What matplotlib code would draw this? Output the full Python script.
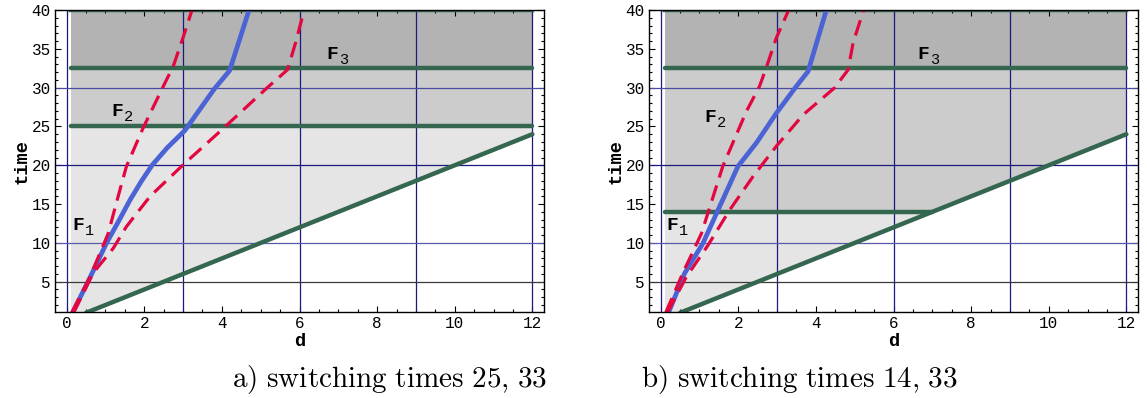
import numpy as np
import matplotlib
matplotlib.use("Agg")
import matplotlib.pyplot as plt
from matplotlib.ticker import MultipleLocator

# ---------------- data ----------------
# panel a) switching times 25, 33
a_switch = [25, 32.5]
a_blue_d = [0.15, 0.55, 1.03, 1.35, 1.63, 1.92, 2.2, 2.6, 3.05, 3.8, 4.2, 4.7]
a_blue_t = [1.0, 5.0, 10.0, 12.9, 15.5, 17.9, 20.0, 22.3, 24.5, 29.8, 32.2, 40.0]
a_redL_d = [0.13, 0.6, 1.07, 1.3, 1.54, 1.97, 2.45, 2.75, 3.01, 3.23]
a_redL_t = [1.0, 5.6, 11.2, 15.5, 19.85, 24.8, 29.75, 32.8, 36.6, 40.0]
a_redR_d = [0.18, 0.68, 1.2, 1.54, 2.15, 3.01, 3.96, 5.17, 5.69, 5.9, 6.12]
a_redR_t = [1.0, 6.1, 9.3, 12.1, 16.0, 20.1, 24.4, 30.0, 32.3, 35.8, 40.0]

# panel b) switching times 14, 33
b_switch = [14, 32.5]
b_blue_d = [0.2, 0.62, 1.09, 1.48, 1.75, 1.99, 2.47, 2.98, 3.5, 3.8, 4.27]
b_blue_t = [1.0, 6.1, 9.95, 14.25, 17.2, 19.85, 22.9, 26.7, 30.2, 32.1, 40.0]
b_redL_d = [0.13, 0.57, 1.05, 1.6, 2.21, 2.55, 2.72, 2.98, 3.3]
b_redL_t = [1.0, 6.1, 11.2, 19.85, 26.95, 30.2, 32.55, 36.4, 40.0]
b_redR_d = [0.17, 0.66, 1.22, 1.78, 2.38, 2.98, 3.67, 4.48, 4.83, 4.96, 5.23]
b_redR_t = [1.0, 5.6, 9.7, 14.25, 18.55, 22.45, 26.5, 29.97, 32.3, 35.8, 40.0]

# boundary line
boundary_d = [0.5, 12.0]
boundary_t = [1.0, 24.0]
d_left = 0.1
d_right = 12.0
t_top = 40.0

xticks = [0, 2, 4, 6, 8, 10, 12]
yticks = [5, 10, 15, 20, 25, 30, 35, 40]
vgrid = [0, 3, 6, 9, 12]
hgrid = [5, 10, 20, 30]
hgrid_colors = ['#3a3a3a', '#5a5aa8', '#1a1a80', '#4a4aa0']

labels_pos_a = [(0.45, 12.2), (1.45, 26.9), (7.0, 34.3)]
labels_pos_b = [(0.46, 12.2), (1.43, 26.1), (6.93, 34.3)]
captions = ['a) switching times 25, 33', 'b) switching times 14, 33']

GREEN = '#346650'
BLUE = '#4b63d4'
RED = '#e3063f'
G1, G2, G3 = '#e5e5e5', '#cccccc', '#b3b3b3'
MONO = 'Liberation Mono'

W, H = 1147, 398
fig = plt.figure(figsize=(W / 100, H / 100), dpi=100)

ax_rects = [
    [55 / W, (H - 312) / H, 489 / W, 302 / H],
    [649 / W, (H - 312) / H, 489 / W, 302 / H],
]

panels = [
    (a_switch, a_blue_d, a_blue_t, a_redL_d, a_redL_t, a_redR_d, a_redR_t, labels_pos_a),
    (b_switch, b_blue_d, b_blue_t, b_redL_d, b_redL_t, b_redR_d, b_redR_t, labels_pos_b),
]

slope = (boundary_t[1] - boundary_t[0]) / (boundary_d[1] - boundary_d[0])

for k, (sw, bd, bt, rld, rlt, rrd, rrt, lpos) in enumerate(panels):
    ax = fig.add_axes(ax_rects[k])
    ax.set_xlim(-0.3, 12.3)
    ax.set_ylim(1.1, 40)

    dd = np.linspace(d_left, d_right, 400)
    diag = np.maximum(boundary_t[0] + slope * (dd - boundary_d[0]), 1.0)
    s1, s2 = sw
    ax.fill_between(dd, diag, s1, where=diag <= s1, color=G1, lw=0, zorder=1)
    lo2 = np.maximum(diag, s1)
    ax.fill_between(dd, lo2, s2, where=lo2 <= s2, color=G2, lw=0, zorder=1)
    ax.fill_between(dd, s2, t_top, color=G3, lw=0, zorder=1)

    for v in vgrid:
        ax.axvline(v, color='#1a1a80', lw=0.9, zorder=2)
    for hval, hc in zip(hgrid, hgrid_colors):
        ax.axhline(hval, color=hc, lw=0.9, zorder=2)

    glw = 3.2
    ax.plot(boundary_d, boundary_t, color=GREEN, lw=glw, solid_capstyle='round', zorder=3)
    d_end1 = min(d_right, boundary_d[0] + (s1 - boundary_t[0]) / slope)
    ax.plot([d_left, d_end1], [s1, s1], color=GREEN, lw=glw, solid_capstyle='round', zorder=3)
    ax.plot([d_left, d_right], [s2, s2], color=GREEN, lw=glw, solid_capstyle='round', zorder=3)
    ax.plot([d_left, d_right], [t_top, t_top], color=GREEN, lw=glw, zorder=3)

    ax.plot(bd, bt, color=BLUE, lw=3.4, zorder=4, solid_joinstyle='round')
    ax.plot(rld, rlt, color=RED, lw=2.3, dashes=(5.0, 2.6), zorder=5)
    ax.plot(rrd, rrt, color=RED, lw=2.3, dashes=(5.0, 2.6), zorder=5)

    for i, (lx, ly) in enumerate(lpos):
        ax.text(lx, ly, 'F', fontsize=14, fontfamily=MONO, fontweight='bold',
                ha='right', va='center', zorder=6)
        ax.annotate(str(i + 1), (lx, ly), xytext=(0.5, -4), textcoords='offset points',
                    fontsize=11, fontfamily=MONO, ha='left', va='center', zorder=6)

    ax.set_xticks(xticks)
    ax.set_yticks(yticks)
    ax.xaxis.set_minor_locator(MultipleLocator(0.5))
    ax.yaxis.set_minor_locator(MultipleLocator(1))
    ax.tick_params(which='both', direction='in', top=True, right=True, width=0.8)
    ax.tick_params(which='major', length=4, labelsize=11.5, pad=3)
    ax.tick_params(which='minor', length=2)
    for lab in ax.get_xticklabels() + ax.get_yticklabels():
        lab.set_fontfamily(MONO)
    for sp in ax.spines.values():
        sp.set_linewidth(1.0)
        sp.set_zorder(7)
    ax.set_xlabel('d', fontfamily=MONO, fontweight='bold', fontsize=13.5, labelpad=1)
    ax.set_ylabel('time', fontfamily=MONO, fontweight='bold', fontsize=13.5, labelpad=1)

for cx, cap in zip([390, 799], captions):
    txt = r'$\mathrm{' + cap.replace(',', '{,}').replace(' ', r'\ ') + '}$'
    fig.text(cx / W, 1 - 380 / H, txt, fontsize=21, ha='center', va='center',
             math_fontfamily='cm')

fig.savefig('out.png', dpi=100)
